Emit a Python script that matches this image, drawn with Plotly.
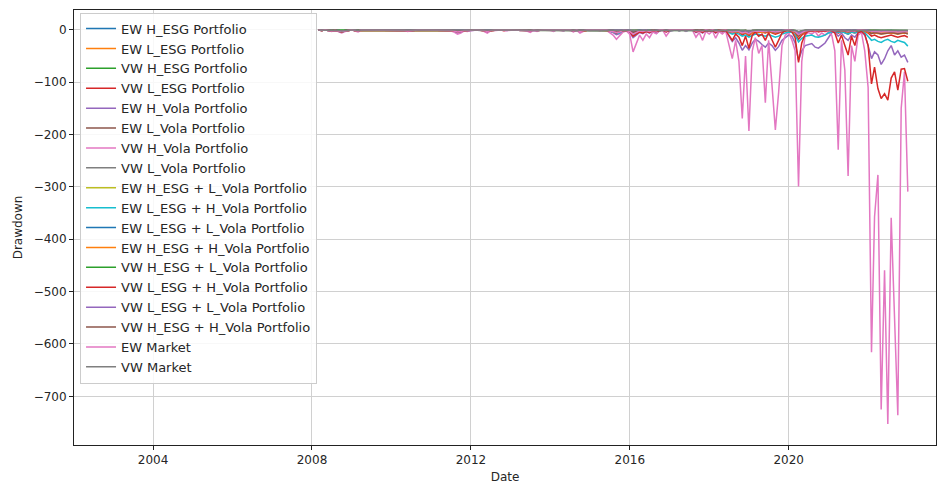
import pandas as pd
import plotly.graph_objects as go

# Month-end observation dates, Feb 2008 .. Dec 2022 (179 months)
dates = pd.date_range("2008-03-01", "2023-01-01", freq="MS") - pd.Timedelta(days=1)

# Drawdown series, one row per calendar year (2008 row starts in February)
ew_h_esg = [
    0, -1, 0, -1, -1, 0, -2, -3, -1, 0, 0,
    -1, -1, 0, 0, 0, 0, 0, 0, 0, 0, 0, 0,
    0, 0, 0, 0, -1, -1, 0, 0, 0, 0, 0, 0,
    0, 0, 0, 0, 0, -1, -1, -2, -2, -1, -1, 0,
    0, 0, 0, -1, -2, -1, 0, 0, 0, 0, 0, 0,
    0, 0, 0, 0, -1, -1, 0, -1, 0, 0, 0, 0,
    -1, 0, 0, 0, 0, 0, -1, 0, -1, -1, 0, 0,
    0, 0, 0, 0, 0, -1, -1, -3, -2, -1, -1, -2,
    -4, -3, -1, -1, -1, -2, 0, -1, 0, 0, -1, 0,
    0, 0, 0, 0, -1, 0, 0, -1, 0, -1, 0, 0,
    0, -2, -1, -1, 0, -2, -3, -2, -3, -5, -3, -6,
    -3, -2, -2, -2, -3, -1, -2, -3, -2, -1, 0, 0,
    -1, -3, -8, -4, -2, -1, -1, 0, -1, 0, 0, 0,
    0, 0, -1, 0, -1, -2, -1, -2, 0, 0, -1, -1,
    -3, -2, -3, -4, -3, -3, -2, -3, -4, -3, -2, -3,
]
ew_l_esg = [
    0, -1, 0, -1, -2, -1, -2, -3, -2, -1, 0,
    -1, -1, 0, 0, 0, 0, 0, 0, 0, 0, 0, 0,
    0, 0, 0, 0, -1, -1, 0, 0, 0, 0, 0, 0,
    0, 0, 0, 0, -1, -1, -1, -3, -2, -1, -1, 0,
    0, 0, 0, -1, -2, -1, 0, 0, 0, -1, 0, 0,
    0, 0, 0, 0, -1, -2, 0, -1, 0, 0, 0, 0,
    -1, 0, 0, -1, 0, 0, -1, 0, -2, -1, 0, 0,
    0, 0, -1, 0, 0, -1, -2, -4, -3, -1, -1, -2,
    -5, -3, -2, -2, -1, -2, -1, -1, 0, 0, -1, 0,
    0, 0, 0, 0, -1, 0, 0, -2, -1, -2, 0, -1,
    0, -2, -1, -1, 0, -3, -4, -3, -4, -7, -4, -8,
    -4, -3, -3, -3, -4, -2, -3, -5, -3, -2, -1, 0,
    -1, -4, -10, -6, -3, -2, -1, -1, -1, 0, 0, 0,
    0, -1, -2, -1, -2, -3, -1, -2, -1, 0, -1, -2,
    -4, -3, -4, -5, -4, -4, -3, -4, -5, -4, -3, -4,
]
vw_h_esg = [
    0, 0, 0, -1, -1, 0, -1, -2, -1, 0, 0,
    -1, -1, 0, 0, 0, 0, 0, 0, 0, 0, 0, 0,
    0, 0, 0, 0, -1, 0, 0, 0, 0, 0, 0, 0,
    0, 0, 0, 0, 0, 0, -1, -2, -1, 0, -1, 0,
    0, 0, 0, 0, -1, 0, 0, 0, 0, 0, 0, 0,
    0, 0, 0, 0, 0, -1, 0, -1, 0, 0, 0, 0,
    0, 0, 0, 0, 0, 0, -1, 0, -1, 0, 0, 0,
    0, 0, 0, 0, 0, -1, 0, -2, -1, 0, 0, -1,
    -2, -2, 0, 0, 0, -1, 0, 0, 0, 0, 0, 0,
    0, 0, 0, 0, 0, 0, 0, -1, 0, 0, 0, 0,
    0, -1, -1, 0, 0, -1, -1, -1, -1, -3, -1, -3,
    -1, -1, -1, -1, -1, 0, -1, -1, -1, 0, 0, 0,
    0, -2, -5, -2, -1, 0, 0, 0, 0, 0, 0, 0,
    0, 0, 0, 0, 0, -1, 0, -1, 0, 0, 0, 0,
    -1, -1, -1, -2, -1, -1, -1, -1, -2, -1, -1, -2,
]
vw_l_esg = [
    0, -1, 0, -1, -2, -1, -3, -4, -2, -1, 0,
    -1, -2, 0, 0, 0, -1, 0, 0, 0, 0, 0, 0,
    0, 0, 0, -1, -2, -1, 0, 0, 0, 0, 0, 0,
    0, 0, 0, 0, -1, -1, -2, -4, -3, -1, -1, 0,
    0, 0, 0, -1, -3, -1, 0, 0, 0, -1, 0, 0,
    0, 0, 0, 0, -1, -2, 0, -1, 0, 0, 0, 0,
    -1, 0, 0, -1, 0, 0, -2, 0, -2, -1, 0, 0,
    0, 0, -1, 0, 0, -2, -3, -5, -4, -1, -1, -3,
    -9, -6, -3, -4, -2, -4, -1, -2, -1, 0, -3, -1,
    0, 0, -1, 0, -1, 0, 0, -3, -1, -4, -1, -2,
    -1, -3, -1, -2, -1, -4, -6, -4, -5, -10, -6, -12,
    -5, -3, -5, -4, -6, -3, -5, -8, -6, -3, -1, 0,
    -2, -6, -18, -10, -5, -2, -1, -1, -2, -1, -1, 0,
    -1, -2, -6, -3, -5, -8, -4, -6, -2, -1, -3, -6,
    -12, -10, -13, -15, -13, -12, -10, -12, -14, -12, -11, -14,
]
ew_h_vola = [
    0, -1, 0, -1, -2, -1, -2, -3, -2, -1, 0,
    -1, -2, 0, 0, 0, 0, 0, 0, 0, 0, 0, 0,
    0, 0, 0, -1, -2, -1, 0, 0, 0, 0, 0, 0,
    0, 0, 0, 0, -1, -1, -3, -6, -4, -2, -2, -1,
    0, 0, 0, -2, -4, -1, 0, 0, 0, -1, -1, 0,
    0, 0, 0, 0, -1, -3, -1, -2, 0, 0, 0, 0,
    -2, 0, 0, -2, 0, 0, -3, -1, -4, -2, 0, 0,
    0, 0, -1, 0, 0, -3, -5, -9, -7, -2, -2, -5,
    -15, -10, -5, -7, -3, -6, -2, -7, -2, 0, -4, -1,
    0, 0, -1, 0, -2, 0, 0, -5, -2, -6, -1, -3,
    -1, -6, -2, -4, -2, -12, -22, -15, -25, -39, -30, -38,
    -25, -18, -22, -28, -33, -25, -30, -39, -32, -20, -15, -10,
    -12, -25, -58, -40, -30, -28, -26, -33, -35, -30, -25, -15,
    -5, -4, -12, -6, -15, -20, -10, -14, -5, -4, -10, -30,
    -55, -42, -48, -66, -55, -40, -30, -48, -40, -52, -48, -62,
]
ew_l_vola = [
    0, 0, 0, -1, -1, 0, -1, -2, -1, 0, 0,
    0, -1, 0, 0, 0, 0, 0, 0, 0, 0, 0, 0,
    0, 0, 0, 0, -1, 0, 0, 0, 0, 0, 0, 0,
    0, 0, 0, 0, 0, 0, -1, -1, -1, 0, 0, 0,
    0, 0, 0, 0, -1, 0, 0, 0, 0, 0, 0, 0,
    0, 0, 0, 0, 0, -1, 0, 0, 0, 0, 0, 0,
    0, 0, 0, 0, 0, 0, -1, 0, -1, 0, 0, 0,
    0, 0, 0, 0, 0, 0, -1, -2, -1, 0, 0, -1,
    -2, -1, 0, 0, 0, -1, 0, 0, 0, 0, 0, 0,
    0, 0, 0, 0, 0, 0, 0, -1, 0, 0, 0, 0,
    0, -1, 0, 0, 0, -1, -1, -1, -1, -2, -1, -3,
    -1, -1, -1, -1, -1, 0, -1, -1, -1, 0, 0, 0,
    0, -2, -6, -3, -1, 0, 0, 0, 0, 0, 0, 0,
    0, 0, -1, 0, 0, -1, 0, -1, 0, 0, 0, 0,
    -2, -1, -2, -2, -2, -1, -1, -2, -2, -1, -1, -2,
]
vw_h_vola = [
    0, -1, 0, -2, -3, -1, -4, -6, -3, -2, 0,
    -2, -4, -1, 0, 0, -1, 0, 0, -1, 0, 0, 0,
    -1, 0, 0, -1, -3, -2, 0, -1, 0, 0, 0, 0,
    0, 0, -1, 0, -1, -2, -4, -8, -6, -2, -3, -1,
    0, 0, 0, -3, -6, -2, -1, 0, 0, -2, -1, 0,
    0, 0, -1, 0, -2, -5, -1, -3, 0, 0, 0, -1,
    -3, 0, -1, -2, 0, -1, -4, -1, -6, -3, 0, -1,
    0, 0, -2, 0, -1, -5, -10, -18, -12, -4, -2, -8,
    -42, -25, -10, -20, -8, -15, -4, -7, -2, -1, -12, -3,
    -1, 0, -2, 0, -3, 0, -1, -14, -5, -20, -3, -8,
    -2, -16, -3, -8, -2, -30, -55, -20, -60, -169, -50, -193,
    -40, -15, -45, -30, -139, -20, -110, -191, -120, -30, -10, -5,
    -20, -40, -299, -60, -10, -5, -8, -3, -12, -6, -10, -4,
    -10, -40, -229, -20, -77, -279, -30, -60, -10, -5, -40, -110,
    -616, -357, -277, -725, -459, -753, -359, -548, -736, -150, -80, -309,
]
vw_l_vola = [
    0, 0, 0, -1, -1, 0, -1, -2, -1, 0, 0,
    0, -1, 0, 0, 0, 0, 0, 0, 0, 0, 0, 0,
    0, 0, 0, 0, -1, 0, 0, 0, 0, 0, 0, 0,
    0, 0, 0, 0, 0, 0, 0, -1, -1, 0, 0, 0,
    0, 0, 0, 0, 0, 0, 0, 0, 0, 0, 0, 0,
    0, 0, 0, 0, 0, -1, 0, 0, 0, 0, 0, 0,
    0, 0, 0, 0, 0, 0, 0, 0, -1, 0, 0, 0,
    0, 0, 0, 0, 0, 0, 0, -1, -1, 0, 0, 0,
    -1, -1, 0, 0, 0, 0, 0, 0, 0, 0, 0, 0,
    0, 0, 0, 0, 0, 0, 0, 0, 0, 0, 0, 0,
    0, -1, 0, 0, 0, 0, -1, 0, -1, -1, -1, -2,
    -1, 0, 0, 0, -1, 0, 0, -1, 0, 0, 0, 0,
    0, -1, -4, -2, -1, 0, 0, 0, 0, 0, 0, 0,
    0, 0, 0, 0, 0, 0, 0, 0, 0, 0, 0, 0,
    -1, -1, -1, -1, -1, -1, 0, -1, -1, -1, 0, -1,
]
ew_h_esg_l_vola = [
    0, 0, 0, -1, -1, 0, -1, -2, -1, 0, 0,
    0, -1, 0, 0, 0, 0, 0, 0, 0, 0, 0, 0,
    0, 0, 0, 0, -1, 0, 0, 0, 0, 0, 0, 0,
    0, 0, 0, 0, 0, 0, -1, -1, -1, 0, 0, 0,
    0, 0, 0, 0, -1, 0, 0, 0, 0, 0, 0, 0,
    0, 0, 0, 0, 0, -1, 0, 0, 0, 0, 0, 0,
    0, 0, 0, 0, 0, 0, -1, 0, -1, 0, 0, 0,
    0, 0, 0, 0, 0, 0, -1, -2, -1, 0, 0, -1,
    -2, -1, 0, 0, 0, -1, 0, 0, 0, 0, 0, 0,
    0, 0, 0, 0, 0, 0, 0, -1, 0, 0, 0, 0,
    0, -1, 0, 0, 0, -1, -1, -1, -1, -2, -1, -2,
    -1, -1, -1, 0, -1, 0, -1, -1, -1, 0, 0, 0,
    0, -2, -5, -2, -1, 0, 0, 0, 0, 0, 0, 0,
    0, 0, -1, 0, 0, -1, 0, -1, 0, 0, 0, 0,
    -1, -1, -2, -2, -1, -1, -1, -1, -2, -1, -1, -2,
]
ew_l_esg_h_vola = [
    0, -1, 0, -1, -2, -1, -2, -4, -2, -1, 0,
    -1, -2, 0, 0, 0, 0, 0, 0, 0, 0, 0, 0,
    0, 0, 0, -1, -2, -1, 0, 0, 0, 0, 0, 0,
    0, 0, 0, 0, -1, -1, -2, -5, -3, -1, -1, 0,
    0, 0, 0, -1, -3, -1, 0, 0, 0, -1, 0, 0,
    0, 0, 0, 0, -1, -2, 0, -1, 0, 0, 0, 0,
    -1, 0, 0, -1, 0, 0, -2, 0, -3, -1, 0, 0,
    0, 0, -1, 0, 0, -2, -4, -6, -5, -1, -1, -3,
    -10, -7, -3, -4, -2, -4, -1, -3, -1, 0, -2, -1,
    0, 0, -1, 0, -1, 0, 0, -3, -1, -3, -1, -2,
    -1, -3, -1, -2, -1, -5, -8, -6, -8, -12, -10, -14,
    -10, -8, -9, -10, -12, -9, -11, -14, -12, -8, -6, -4,
    -5, -10, -23, -16, -12, -11, -10, -13, -14, -12, -10, -6,
    -3, -2, -5, -3, -6, -8, -4, -6, -3, -2, -5, -12,
    -20, -18, -22, -24, -20, -18, -22, -24, -20, -22, -24, -31,
]
ew_l_esg_l_vola = [
    0, 0, 0, -1, -1, 0, -1, -2, -1, 0, 0,
    0, -1, 0, 0, 0, 0, 0, 0, 0, 0, 0, 0,
    0, 0, 0, 0, -1, 0, 0, 0, 0, 0, 0, 0,
    0, 0, 0, 0, 0, 0, -1, -1, -1, 0, 0, 0,
    0, 0, 0, 0, -1, 0, 0, 0, 0, 0, 0, 0,
    0, 0, 0, 0, 0, -1, 0, 0, 0, 0, 0, 0,
    0, 0, 0, 0, 0, 0, -1, 0, -1, 0, 0, 0,
    0, 0, 0, 0, 0, -1, -1, -2, -1, 0, 0, -1,
    -3, -2, 0, -1, 0, -1, 0, 0, 0, 0, 0, 0,
    0, 0, 0, 0, 0, 0, 0, -1, 0, 0, 0, 0,
    0, -1, 0, -1, 0, -1, -2, -1, -2, -3, -2, -4,
    -2, -1, -1, -1, -2, -1, -1, -2, -1, 0, 0, 0,
    -1, -2, -7, -3, -2, -1, 0, 0, -1, 0, 0, 0,
    0, 0, -1, 0, -1, -1, 0, -1, 0, 0, 0, -1,
    -2, -2, -2, -3, -2, -2, -1, -2, -3, -2, -2, -3,
]
ew_h_esg_h_vola = [
    0, -1, 0, -1, -1, -1, -2, -3, -2, -1, 0,
    -1, -1, 0, 0, 0, 0, 0, 0, 0, 0, 0, 0,
    0, 0, 0, 0, -1, -1, 0, 0, 0, 0, 0, 0,
    0, 0, 0, 0, -1, -1, -2, -3, -2, -1, -1, 0,
    0, 0, 0, -1, -2, -1, 0, 0, 0, -1, 0, 0,
    0, 0, 0, 0, -1, -1, 0, -1, 0, 0, 0, 0,
    -1, 0, 0, -1, 0, 0, -1, 0, -2, -1, 0, 0,
    0, 0, 0, 0, 0, -1, -2, -4, -3, -1, -1, -2,
    -6, -4, -2, -2, -1, -3, -1, -1, 0, 0, -1, 0,
    0, 0, 0, 0, -1, 0, 0, -2, -1, -2, 0, -1,
    0, -2, -1, -1, 0, -3, -5, -3, -4, -7, -5, -9,
    -5, -3, -4, -4, -5, -3, -4, -6, -4, -2, -1, 0,
    -2, -5, -13, -7, -4, -2, -2, -1, -2, -1, -1, 0,
    0, -1, -2, -1, -3, -4, -2, -3, -1, 0, -2, -4,
    -7, -6, -7, -8, -7, -6, -6, -7, -8, -7, -6, -7,
]
vw_h_esg_l_vola = [
    0, 0, 0, -1, -1, 0, -1, -1, -1, 0, 0,
    0, -1, 0, 0, 0, 0, 0, 0, 0, 0, 0, 0,
    0, 0, 0, 0, 0, 0, 0, 0, 0, 0, 0, 0,
    0, 0, 0, 0, 0, 0, 0, -1, -1, 0, 0, 0,
    0, 0, 0, 0, -1, 0, 0, 0, 0, 0, 0, 0,
    0, 0, 0, 0, 0, 0, 0, 0, 0, 0, 0, 0,
    0, 0, 0, 0, 0, 0, 0, 0, -1, 0, 0, 0,
    0, 0, 0, 0, 0, 0, 0, -1, -1, 0, 0, 0,
    -1, -1, 0, 0, 0, 0, 0, 0, 0, 0, 0, 0,
    0, 0, 0, 0, 0, 0, 0, 0, 0, 0, 0, 0,
    0, -1, 0, 0, 0, -1, -1, 0, -1, -1, -1, -2,
    -1, 0, 0, 0, -1, 0, 0, -1, 0, 0, 0, 0,
    0, -1, -4, -2, -1, 0, 0, 0, 0, 0, 0, 0,
    0, 0, 0, 0, 0, 0, 0, 0, 0, 0, 0, 0,
    -1, 0, -1, -1, -1, 0, 0, -1, -1, 0, 0, -1,
]
vw_l_esg_h_vola = [
    0, -1, 0, -1, -2, -1, -3, -4, -2, -1, 0,
    -1, -2, 0, 0, 0, -1, 0, 0, 0, 0, 0, 0,
    0, 0, 0, -1, -2, -1, 0, 0, 0, 0, 0, 0,
    0, 0, 0, 0, -1, -1, -2, -4, -3, -1, -1, 0,
    0, 0, 0, -1, -3, -1, 0, 0, 0, -1, 0, 0,
    0, 0, 0, 0, -1, -2, 0, -1, 0, 0, 0, 0,
    -1, 0, 0, -1, 0, 0, -2, 0, -2, -1, 0, 0,
    0, 0, -1, 0, 0, -2, -3, -6, -4, -1, -1, -3,
    -12, -8, -4, -6, -3, -5, -2, -3, -1, 0, -4, -1,
    0, 0, -1, 0, -1, 0, 0, -4, -2, -5, -1, -2,
    -1, -5, -1, -3, -1, -10, -20, -8, -14, -30, -12, -35,
    -10, -4, -12, -8, -20, -5, -18, -33, -20, -6, -2, -1,
    -4, -15, -62, -25, -8, -2, -3, -1, -4, -2, -3, -1,
    -2, -6, -25, -10, -30, -48, -12, -30, -5, -3, -8, -30,
    -103, -71, -112, -131, -122, -134, -92, -80, -115, -75, -74, -98,
]
vw_l_esg_l_vola = [
    0, 0, 0, -1, -1, 0, -1, -2, -1, 0, 0,
    0, -1, 0, 0, 0, 0, 0, 0, 0, 0, 0, 0,
    0, 0, 0, 0, -1, 0, 0, 0, 0, 0, 0, 0,
    0, 0, 0, 0, 0, 0, -1, -1, -1, 0, 0, 0,
    0, 0, 0, 0, -1, 0, 0, 0, 0, 0, 0, 0,
    0, 0, 0, 0, 0, -1, 0, 0, 0, 0, 0, 0,
    0, 0, 0, 0, 0, 0, -1, 0, -1, 0, 0, 0,
    0, 0, 0, 0, 0, 0, -1, -1, -1, 0, 0, 0,
    -2, -1, 0, 0, 0, -1, 0, 0, 0, 0, 0, 0,
    0, 0, 0, 0, 0, 0, 0, -1, 0, 0, 0, 0,
    0, -1, 0, 0, 0, -1, -1, -1, -1, -2, -1, -3,
    -1, -1, -1, -1, -1, 0, -1, -1, -1, 0, 0, 0,
    0, -2, -5, -3, -1, 0, 0, 0, 0, 0, 0, 0,
    0, 0, -1, 0, 0, -1, 0, -1, 0, 0, 0, 0,
    -2, -1, -2, -2, -2, -1, -1, -2, -2, -1, -1, -2,
]
vw_h_esg_h_vola = [
    0, -1, 0, -1, -1, 0, -2, -3, -1, 0, 0,
    -1, -1, 0, 0, 0, 0, 0, 0, 0, 0, 0, 0,
    0, 0, 0, 0, -1, -1, 0, 0, 0, 0, 0, 0,
    0, 0, 0, 0, 0, -1, -1, -2, -2, -1, -1, 0,
    0, 0, 0, -1, -2, -1, 0, 0, 0, 0, 0, 0,
    0, 0, 0, 0, -1, -1, 0, -1, 0, 0, 0, 0,
    -1, 0, 0, 0, 0, 0, -1, 0, -1, -1, 0, 0,
    0, 0, 0, 0, 0, -1, -1, -3, -2, -1, -1, -2,
    -5, -3, -1, -2, -1, -2, 0, -1, 0, 0, -1, 0,
    0, 0, 0, 0, -1, 0, 0, -1, 0, -1, 0, 0,
    0, -2, 0, -1, 0, -3, -4, -2, -3, -6, -4, -8,
    -3, -2, -3, -2, -4, -2, -3, -5, -4, -2, -1, 0,
    -1, -4, -12, -6, -3, -1, -1, 0, -1, 0, 0, 0,
    0, -1, -3, -1, -2, -4, -2, -3, -1, 0, -1, -3,
    -7, -5, -6, -8, -7, -6, -5, -6, -8, -6, -5, -8,
]
ew_market = [
    0, -1, 0, -1, -2, -1, -2, -3, -2, -1, 0,
    -1, -2, 0, 0, 0, 0, 0, 0, 0, 0, 0, 0,
    0, 0, 0, -1, -2, -1, 0, 0, 0, 0, 0, 0,
    0, 0, 0, 0, -1, -1, -2, -4, -3, -1, -1, 0,
    0, 0, 0, -1, -3, -1, 0, 0, 0, -1, 0, 0,
    0, 0, 0, 0, -1, -2, 0, -1, 0, 0, 0, 0,
    -1, 0, 0, -1, 0, 0, -2, 0, -3, -1, 0, 0,
    0, 0, -1, 0, 0, -2, -3, -5, -4, -1, -1, -3,
    -8, -5, -2, -3, -1, -3, -1, -2, 0, 0, -2, 0,
    0, 0, 0, 0, -1, 0, 0, -2, -1, -2, 0, -1,
    0, -2, -1, -1, 0, -2, -4, -2, -3, -6, -4, -7,
    -3, -2, -2, -2, -3, -1, -2, -4, -3, -1, 0, 0,
    -1, -3, -9, -5, -2, -1, -1, 0, -1, 0, 0, 0,
    0, 0, -1, 0, -1, -2, -1, -2, 0, 0, -1, -2,
    -3, -3, -3, -4, -3, -3, -2, -3, -4, -3, -3, -3,
]
vw_market = [
    0, 0, 0, -1, -1, 0, -1, -2, -1, 0, 0,
    0, -1, 0, 0, 0, 0, 0, 0, 0, 0, 0, 0,
    0, 0, 0, 0, -1, 0, 0, 0, 0, 0, 0, 0,
    0, 0, 0, 0, 0, 0, -1, -1, -1, 0, 0, 0,
    0, 0, 0, 0, -1, 0, 0, 0, 0, 0, 0, 0,
    0, 0, 0, 0, 0, 0, 0, 0, 0, 0, 0, 0,
    0, 0, 0, 0, 0, 0, 0, 0, -1, 0, 0, 0,
    0, 0, 0, 0, 0, 0, -1, -1, -1, 0, 0, 0,
    -1, -1, 0, 0, 0, 0, 0, 0, 0, 0, 0, 0,
    0, 0, 0, 0, 0, 0, 0, 0, 0, 0, 0, 0,
    0, -1, 0, 0, 0, 0, -1, 0, -1, -1, -1, -2,
    -1, 0, 0, 0, -1, 0, 0, -1, 0, 0, 0, 0,
    0, -1, -3, -1, 0, 0, 0, 0, 0, 0, 0, 0,
    0, 0, 0, 0, 0, 0, 0, 0, 0, 0, 0, 0,
    -1, 0, -1, -1, -1, 0, 0, -1, -1, 0, 0, -1,
]

series_names = [
    "EW H_ESG Portfolio", "EW L_ESG Portfolio", "VW H_ESG Portfolio",
    "VW L_ESG Portfolio", "EW H_Vola Portfolio", "EW L_Vola Portfolio",
    "VW H_Vola Portfolio", "VW L_Vola Portfolio",
    "EW H_ESG + L_Vola Portfolio", "EW L_ESG + H_Vola Portfolio",
    "EW L_ESG + L_Vola Portfolio", "EW H_ESG + H_Vola Portfolio",
    "VW H_ESG + L_Vola Portfolio", "VW L_ESG + H_Vola Portfolio",
    "VW L_ESG + L_Vola Portfolio", "VW H_ESG + H_Vola Portfolio",
    "EW Market", "VW Market",
]
series_values = [
    ew_h_esg, ew_l_esg, vw_h_esg, vw_l_esg, ew_h_vola, ew_l_vola,
    vw_h_vola, vw_l_vola, ew_h_esg_l_vola, ew_l_esg_h_vola,
    ew_l_esg_l_vola, ew_h_esg_h_vola, vw_h_esg_l_vola, vw_l_esg_h_vola,
    vw_l_esg_l_vola, vw_h_esg_h_vola, ew_market, vw_market,
]

# tab10 colour cycle
palette = ["#1f77b4", "#ff7f0e", "#2ca02c", "#d62728", "#9467bd",
           "#8c564b", "#e377c2", "#7f7f7f", "#bcbd22", "#17becf"]

x_tick_years = ["2004", "2008", "2012", "2016", "2020"]
y_tick_values = [0, -100, -200, -300, -400, -500, -600, -700]

fig = go.Figure()
for k, (name, vals) in enumerate(zip(series_names, series_values)):
    fig.add_trace(go.Scatter(
        x=dates, y=vals, mode="lines", name=name,
        line=dict(color=palette[k % len(palette)], width=1.5),
    ))

axis_common = dict(
    showline=True, linecolor="#222222", linewidth=1, mirror=True,
    ticks="outside", ticklen=4, tickcolor="#222222",
    showgrid=True, gridcolor="#d0d0d0", gridwidth=1, zeroline=False,
    tickfont=dict(size=12, color="#262626"),
)

fig.update_layout(
    width=938, height=488,
    margin=dict(l=74, r=2, t=10, b=43),
    paper_bgcolor="white", plot_bgcolor="white",
    font=dict(family="DejaVu Sans", size=12, color="#262626"),
    xaxis=dict(
        range=["2002-01-04", "2023-09-16"],
        tickvals=[f"{y}-01-01" for y in x_tick_years],
        ticktext=x_tick_years,
        title=dict(text="Date", standoff=6, font=dict(size=12)),
        **axis_common,
    ),
    yaxis=dict(
        range=[-793, 38],
        tickvals=y_tick_values,
        title=dict(text="Drawdown", standoff=8, font=dict(size=12)),
        **axis_common,
    ),
    legend=dict(
        x=0.007, y=0.994, xanchor="left", yanchor="top",
        bgcolor="rgba(255,255,255,0.85)", bordercolor="#cccccc", borderwidth=1,
        font=dict(size=13, color="#262626"),
        tracegroupgap=0,
    ),
    showlegend=True,
)

fig.write_html("out.html")
